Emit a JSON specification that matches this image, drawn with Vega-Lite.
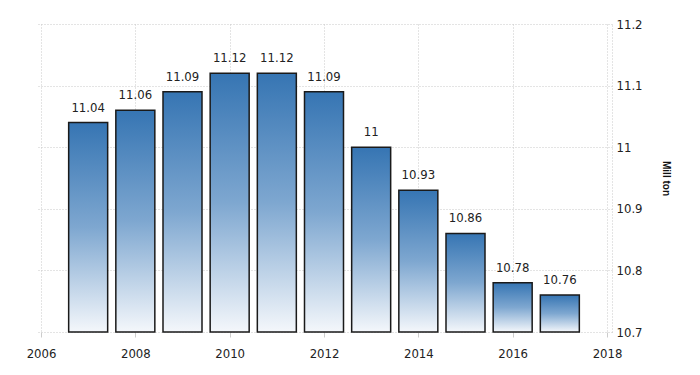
{
  "$schema": "https://vega.github.io/schema/vega-lite/v6.json",
  "width": 576,
  "height": 308,
  "autosize": "none",
  "padding": {"left": 36, "top": 24, "right": 88, "bottom": 43},
  "background": "white",
  "config": {
    "view": {"stroke": null},
    "font": "DejaVu Sans Condensed, Liberation Sans, Arial"
  },
  "data": {
    "values": [
      {"year": 2007, "value": 11.04},
      {"year": 2008, "value": 11.06},
      {"year": 2009, "value": 11.09},
      {"year": 2010, "value": 11.12},
      {"year": 2011, "value": 11.12},
      {"year": 2012, "value": 11.09},
      {"year": 2013, "value": 11.0},
      {"year": 2014, "value": 10.93},
      {"year": 2015, "value": 10.86},
      {"year": 2016, "value": 10.78},
      {"year": 2017, "value": 10.76}
    ]
  },
  "encoding": {
    "x": {
      "field": "year",
      "type": "quantitative",
      "scale": {"domain": [2006, 2018], "nice": false, "zero": false},
      "axis": {
        "values": [2006, 2008, 2010, 2012, 2014, 2016, 2018],
        "format": "d",
        "title": null,
        "grid": true,
        "gridDash": [1, 2],
        "gridColor": "#c8c8c8",
        "domain": false,
        "tickColor": "#cccccc",
        "tickSize": 5,
        "labelFontSize": 13,
        "labelColor": "#222222",
        "labelPadding": 10,
        "labelFont": "DejaVu Sans Condensed, Liberation Sans"
      }
    }
  },
  "layer": [
    {
      "mark": {
        "type": "bar",
        "size": 39,
        "stroke": "#1a1a1a",
        "strokeWidth": 1.5,
        "fill": {
          "gradient": "linear",
          "x1": 0, "y1": 0, "x2": 0, "y2": 1,
          "stops": [
            {"offset": 0, "color": "#3675b3"},
            {"offset": 0.5, "color": "#7ea7d0"},
            {"offset": 1, "color": "#f4f7fb"}
          ]
        }
      },
      "encoding": {
        "y": {
          "field": "value",
          "type": "quantitative",
          "scale": {"domain": [10.7, 11.2], "nice": false, "zero": false},
          "axis": {
            "orient": "right",
            "values": [10.7, 10.8, 10.9, 11.0, 11.1, 11.2],
            "format": "~g",
            "title": "Mill ton",
            "titleAngle": 90,
            "titleFontSize": 10,
            "titleFontWeight": "bold",
            "titleColor": "#111111",
            "titlePadding": 18,
            "titleFont": "Liberation Sans",
            "grid": true,
            "gridDash": [1, 2],
            "gridColor": "#c8c8c8",
            "domain": true,
            "domainDash": [1, 2],
            "domainColor": "#c8c8c8",
            "ticks": false,
            "labelFontSize": 13,
            "labelColor": "#222222",
            "labelPadding": 4,
            "labelFont": "DejaVu Sans Condensed, Liberation Sans"
          }
        },
        "y2": {"datum": 10.7}
      }
    },
    {
      "mark": {
        "type": "text",
        "baseline": "bottom",
        "dy": -8,
        "fontSize": 13,
        "color": "#222222",
        "font": "DejaVu Sans Condensed, Liberation Sans"
      },
      "encoding": {
        "y": {"field": "value", "type": "quantitative"},
        "text": {"field": "value", "type": "quantitative", "format": "~g"}
      }
    }
  ]
}
